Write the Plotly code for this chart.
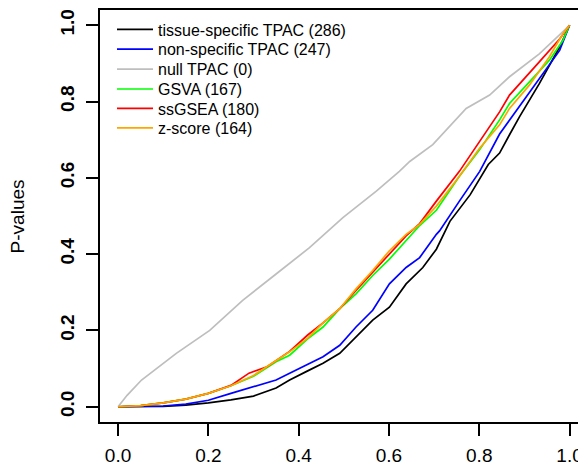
import plotly.graph_objects as go

# ---- data ----
tissue_x = [0, 0.05, 0.1, 0.15, 0.2, 0.25, 0.3, 0.35, 0.38, 0.42, 0.454, 0.491, 0.527, 0.564,
            0.601, 0.638, 0.675, 0.69, 0.705, 0.735, 0.78, 0.82, 0.845, 0.867, 0.889, 0.933, 0.978, 1.0]
tissue_y = [0, 0.0, 0.001, 0.004, 0.01, 0.018, 0.028, 0.049, 0.070, 0.094, 0.114, 0.140, 0.183, 0.227,
            0.261, 0.322, 0.365, 0.39, 0.413, 0.486, 0.556, 0.635, 0.665, 0.713, 0.760, 0.847, 0.943, 1.0]

nonspec_x = [0, 0.05, 0.1, 0.15, 0.2, 0.25, 0.3, 0.35, 0.38, 0.424, 0.454, 0.491, 0.527, 0.564,
             0.601, 0.638, 0.668, 0.705, 0.712, 0.756, 0.801, 0.845, 0.889, 0.933, 0.978, 1.0]
nonspec_y = [0, 0.0005, 0.002, 0.007, 0.017, 0.035, 0.053, 0.070, 0.088, 0.114, 0.131, 0.161, 0.209, 0.253,
             0.322, 0.365, 0.391, 0.452, 0.461, 0.539, 0.617, 0.715, 0.788, 0.860, 0.934, 1.0]

null_x = [0, 0.02, 0.052, 0.129, 0.203, 0.276, 0.35, 0.424, 0.498, 0.572, 0.623, 0.646, 0.697,
          0.771, 0.823, 0.867, 0.933, 0.971, 1.0]
null_y = [0, 0.03, 0.07, 0.14, 0.20, 0.279, 0.348, 0.417, 0.496, 0.565, 0.617, 0.643, 0.687,
          0.782, 0.817, 0.865, 0.925, 0.969, 1.0]

gsva_x = [0, 0.05, 0.1, 0.15, 0.2, 0.25, 0.3, 0.35, 0.38, 0.42, 0.454, 0.491, 0.527, 0.564,
          0.601, 0.638, 0.668, 0.705, 0.756, 0.801, 0.845, 0.867, 0.911, 0.955, 0.985, 1.0]
gsva_y = [0, 0.003, 0.01, 0.02, 0.035, 0.055, 0.08, 0.118, 0.135, 0.178, 0.209, 0.257, 0.296, 0.344,
          0.387, 0.435, 0.475, 0.515, 0.604, 0.674, 0.752, 0.795, 0.852, 0.908, 0.960, 1.0]

ssgsea_x = [0, 0.05, 0.1, 0.15, 0.2, 0.25, 0.29, 0.33, 0.38, 0.42, 0.454, 0.491, 0.527, 0.564,
            0.601, 0.638, 0.668, 0.705, 0.756, 0.801, 0.823, 0.845, 0.867, 0.889, 0.933, 0.978, 1.0]
ssgsea_y = [0, 0.003, 0.01, 0.02, 0.035, 0.056, 0.088, 0.105, 0.145, 0.188, 0.22, 0.257, 0.305, 0.352,
            0.40, 0.448, 0.48, 0.539, 0.617, 0.695, 0.734, 0.773, 0.817, 0.847, 0.904, 0.964, 1.0]

zscore_x = [0, 0.05, 0.1, 0.15, 0.2, 0.25, 0.3, 0.35, 0.38, 0.42, 0.454, 0.491, 0.527, 0.564,
            0.601, 0.638, 0.668, 0.705, 0.756, 0.801, 0.845, 0.867, 0.911, 0.955, 0.985, 1.0]
zscore_y = [0, 0.003, 0.01, 0.02, 0.035, 0.055, 0.082, 0.12, 0.144, 0.18, 0.22, 0.257, 0.309, 0.357,
            0.409, 0.452, 0.478, 0.526, 0.604, 0.678, 0.739, 0.782, 0.843, 0.917, 0.977, 1.0]

series_names = ["tissue-specific TPAC (286)", "non-specific TPAC (247)", "null TPAC (0)",
                "GSVA (167)", "ssGSEA (180)", "z-score (164)"]
series_x = [tissue_x, nonspec_x, null_x, gsva_x, ssgsea_x, zscore_x]
series_y = [tissue_y, nonspec_y, null_y, gsva_y, ssgsea_y, zscore_y]
series_colors = ["#000000", "#0000FF", "#BEBEBE", "#00FF00", "#FF0000", "#FFA500"]

tick_vals = [0.0, 0.2, 0.4, 0.6, 0.8, 1.0]
tick_text = ["0.0", "0.2", "0.4", "0.6", "0.8", "1.0"]

FONT = "Liberation Sans, Arial, Helvetica, sans-serif"

# the page body adds an 8px offset; the figure is sized so it ends at the window edge
W, H = 578, 464
ML, MT, MB = 92, 0, 50
PLOT_H = H - MT - MB

fig = go.Figure()
legend_layouts = {}
row_centers = [19.5, 39.5, 59.5, 79.5, 99, 118.5]  # px below plot top
for i, (name, xs, ys, col) in enumerate(zip(series_names, series_x, series_y, series_colors)):
    lg = "legend" if i == 0 else f"legend{i + 1}"
    fig.add_trace(go.Scatter(x=xs, y=ys, mode="lines", name=name, legend=lg,
                             line=dict(color=col, width=1.7)))
    legend_layouts[lg] = dict(
        x=0.0247, y=1 - row_centers[i] / PLOT_H, xanchor="left", yanchor="middle",
        bgcolor="rgba(0,0,0,0)", borderwidth=0,
        font=dict(size=16, family=FONT, color="black"),
        itemwidth=36,
    )

fig.update_layout(
    width=W, height=H,
    margin=dict(l=ML, r=0, t=MT, b=MB),
    paper_bgcolor="white", plot_bgcolor="white",
    font=dict(family=FONT, color="black"),
    showlegend=True,
    **legend_layouts,
)
fig.update_xaxes(
    range=[-0.04, 1.0364], tickvals=tick_vals, ticktext=tick_text,
    showgrid=False, zeroline=False, showline=True, linecolor="black", linewidth=1.5,
    mirror=True, ticks="outside", ticklen=12, tickwidth=1.5, tickcolor="black",
    ticklabelstandoff=3,
    tickfont=dict(size=19, family=FONT, color="black"),
)
fig.update_yaxes(
    range=[-0.04, 1.04], tickvals=tick_vals, ticktext=tick_text,
    showgrid=False, zeroline=False, showline=True, linecolor="black", linewidth=1.5,
    mirror=False, ticks="outside", ticklen=12, tickwidth=1.5, tickcolor="black",
    tickangle=-90, ticklabelstandoff=5,
    tickfont=dict(size=19, family=FONT, color="black", weight="bold"),
)
fig.add_annotation(
    text="P-values", xref="paper", yref="paper", x=-0.17, y=0.5,
    xanchor="center", yanchor="middle", textangle=-90, showarrow=False,
    font=dict(size=19, family=FONT, color="black"),
)

fig.write_html("out.html")
